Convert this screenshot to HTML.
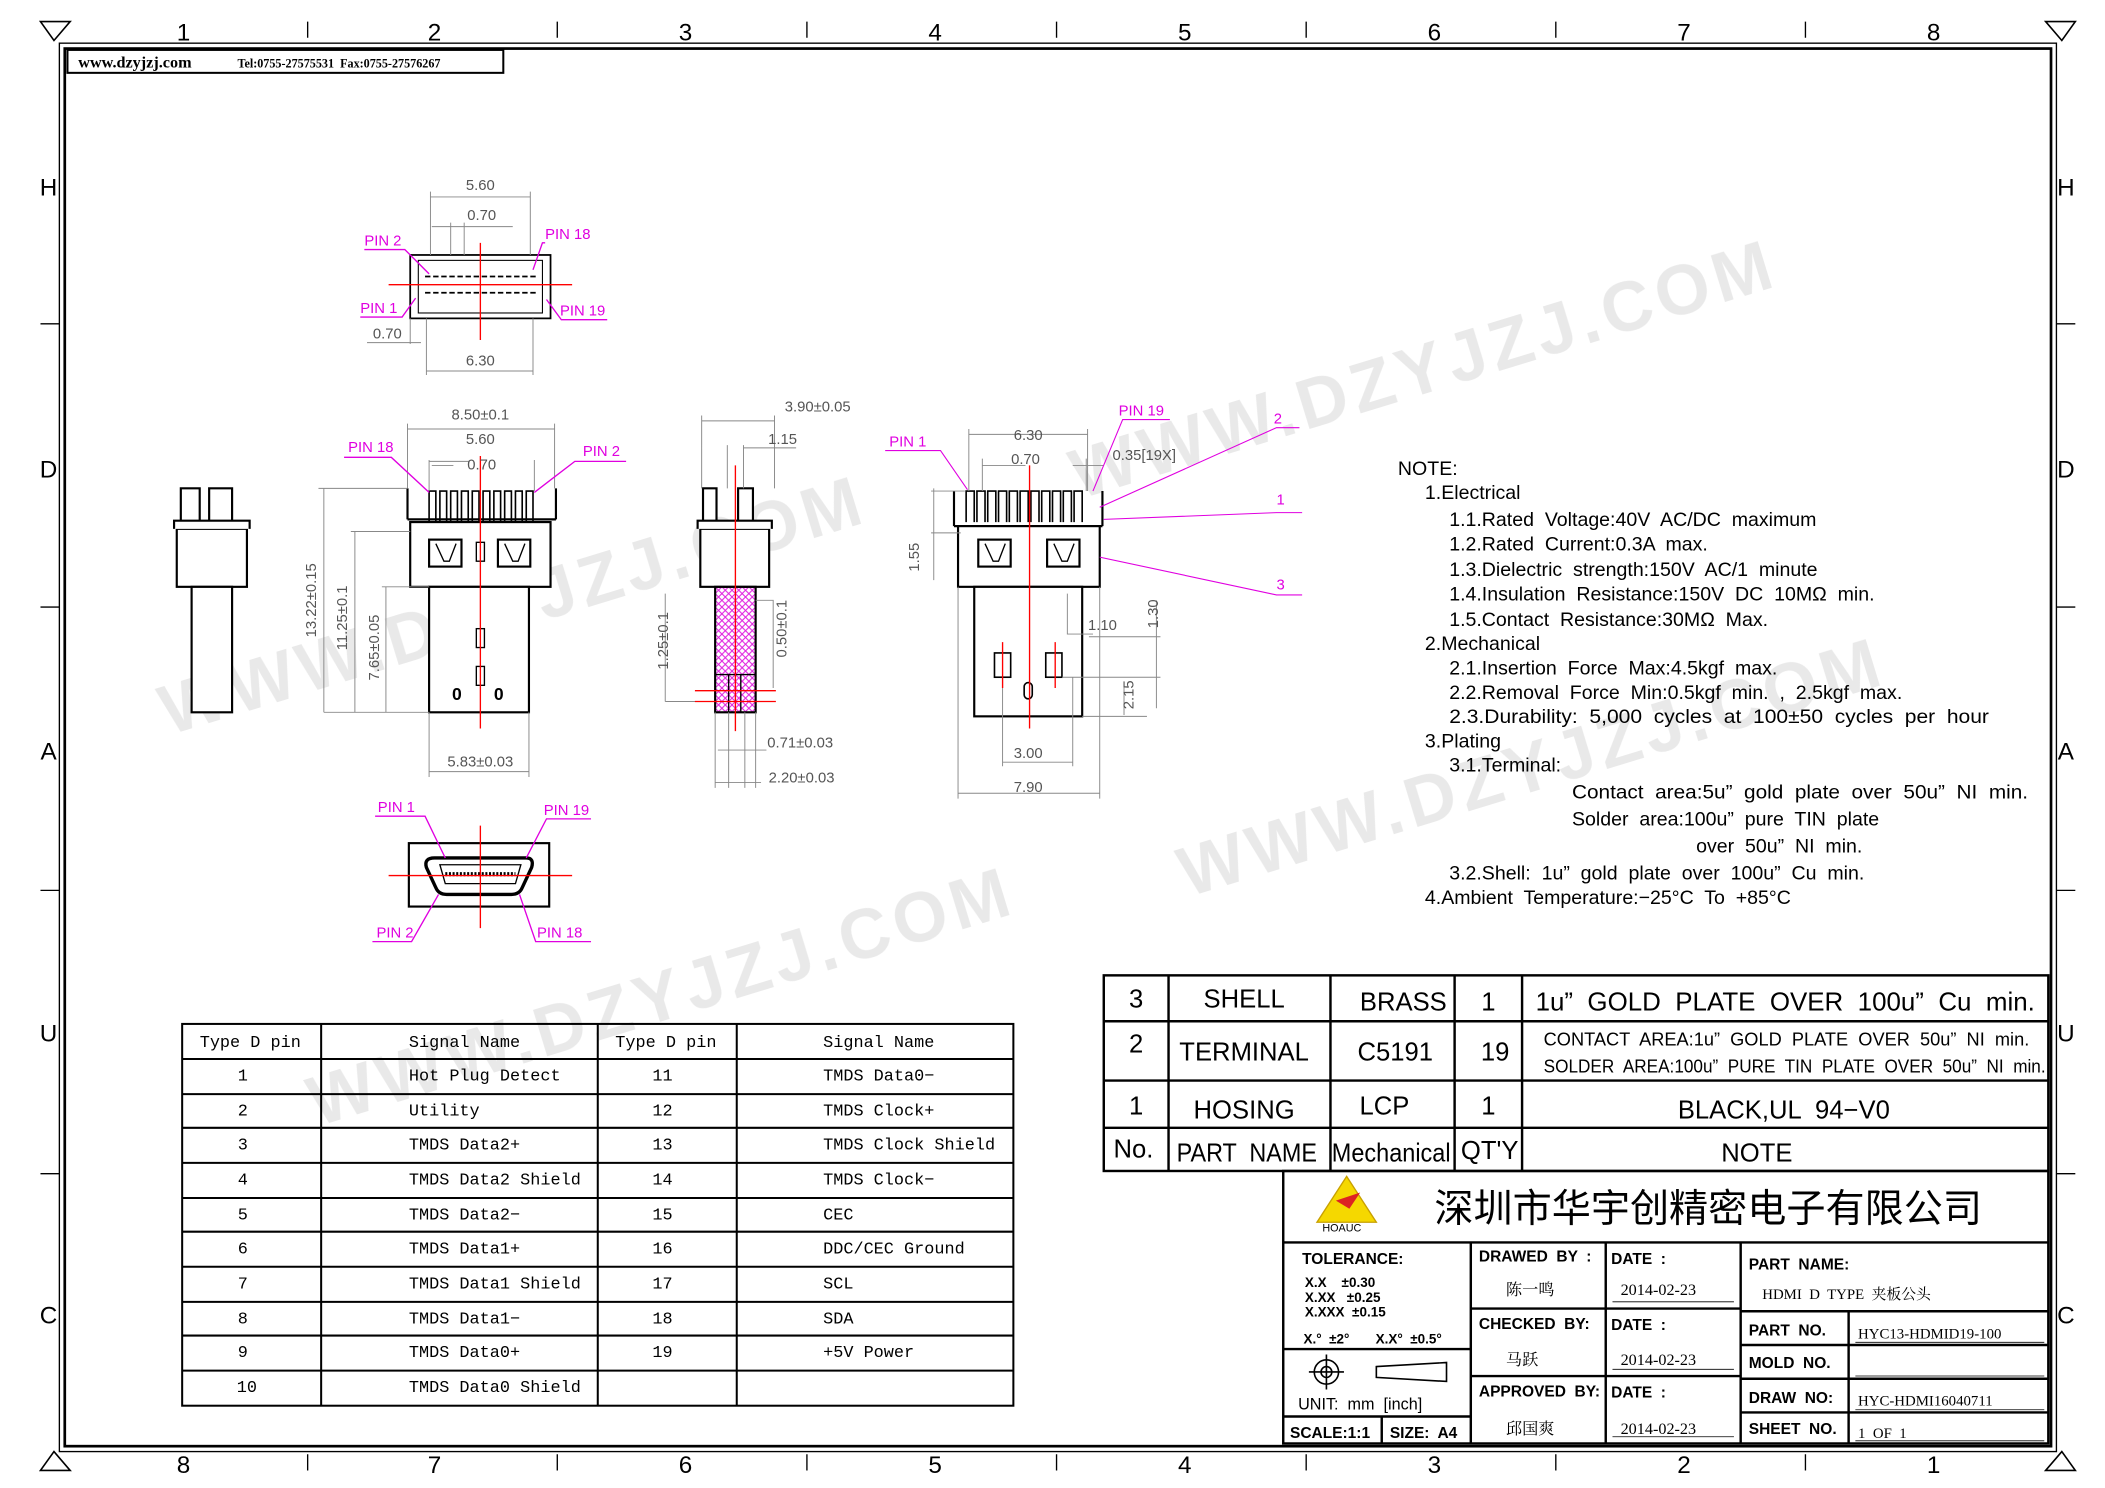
<!DOCTYPE html>
<html><head><meta charset="utf-8"><style>
html,body{margin:0;padding:0;background:#fff}
svg{display:block}
text{font-family:"Liberation Sans","Noto Sans CJK SC",sans-serif;white-space:pre}
.s text,text.s{font-family:"Liberation Serif","Noto Serif CJK SC",serif}
.m text{font-family:"Liberation Mono","Noto Sans CJK SC",monospace}
</style></head><body>
<svg width="2105" height="1488" viewBox="0 0 1560 1103" preserveAspectRatio="none" xmlns="http://www.w3.org/2000/svg">
<defs>
<pattern id="h" width="5" height="5" patternUnits="userSpaceOnUse"><path d="M0,0L5,5M5,0L0,5" stroke="#e020e0" stroke-width="0.8"/></pattern>
</defs>
<rect width="1560" height="1103" fill="#fff"/>
<g fill="none" stroke="#000">
<rect x="44" y="32" width="1480" height="1044" stroke-width="1"/>
<rect x="48" y="36" width="1472" height="1036" stroke-width="2"/>
<path d="M30,16 L52,16 L40,30 Z M1538,16 L1516,16 L1528,30 Z M30,1090 L52,1090 L40,1076 Z M1538,1090 L1516,1090 L1528,1076 Z" stroke-width="1.2"/>
<path d="M228,16V28M413,16V28M598,16V28M783,16V28M968,16V28M1153,16V28M1338,16V28M228,1078V1090M413,1078V1090M598,1078V1090M783,1078V1090M968,1078V1090M1153,1078V1090M1338,1078V1090M30,240H44M30,450H44M30,660H44M30,870H44M1524,240H1538M1524,450H1538M1524,660H1538M1524,870H1538"/>
</g>
<g font-size="18" text-anchor="middle">
<text x="136" y="30">1</text><text x="322" y="30">2</text><text x="508" y="30">3</text><text x="693" y="30">4</text><text x="878" y="30">5</text><text x="1063" y="30">6</text><text x="1248" y="30">7</text><text x="1433" y="30">8</text>
<text x="136" y="1092">8</text><text x="322" y="1092">7</text><text x="508" y="1092">6</text><text x="693" y="1092">5</text><text x="878" y="1092">4</text><text x="1063" y="1092">3</text><text x="1248" y="1092">2</text><text x="1433" y="1092">1</text>
<text x="36" y="145">H</text><text x="36" y="354">D</text><text x="36" y="563">A</text><text x="36" y="772">U</text><text x="36" y="981">C</text>
<text x="1531" y="145">H</text><text x="1531" y="354">D</text><text x="1531" y="563">A</text><text x="1531" y="772">U</text><text x="1531" y="981">C</text>
</g>
<rect x="50" y="37" width="323" height="17" fill="#fff" stroke="#000" stroke-width="1.5"/>
<text x="58" y="50" class="s" font-size="12" font-weight="bold">www.dzyjzj.com</text>
<text x="176" y="50" class="s" font-size="9" font-weight="bold">Tel:0755-27575531  Fax:0755-27576267</text>

<g fill="#e2e2e2" font-size="52" font-weight="bold" letter-spacing="4" opacity="0.75">
<text transform="translate(125,545) rotate(-17)">WWW.DZYJZJ.COM</text>
<text transform="translate(800,370) rotate(-17)">WWW.DZYJZJ.COM</text>
<text transform="translate(880,665) rotate(-17)">WWW.DZYJZJ.COM</text>
<text transform="translate(235,835) rotate(-17)">WWW.DZYJZJ.COM</text>
</g>

<!-- TOP VIEW -->
<g stroke="#000" fill="none" stroke-width="1.3">
<rect x="304" y="189" width="104" height="47"/>
<rect x="310" y="193" width="92" height="39" stroke-width="0.8"/>
<path d="M315,205H398M315,217H398" stroke-dasharray="4,2"/>
</g>
<g stroke="#888" stroke-width="0.7" fill="none">
<path d="M319,189V142M393,189V142M319,146H393M334,189V165M344,189V165M320,168H380M304,236V255M316,236V278M395,236V278M316,275H395M272,254H312"/>
</g>
<g stroke="red" stroke-width="1"><path d="M356,180V252M288,211H424"/></g>
<g font-size="11" fill="#555" text-anchor="middle"><text x="356" y="141">5.60</text><text x="357" y="163">0.70</text><text x="287" y="251">0.70</text><text x="356" y="271">6.30</text></g>
<g fill="#e000e0" font-size="11"><text x="270" y="182">PIN 2</text><text x="404" y="177">PIN 18</text><text x="267" y="232">PIN 1</text><text x="415" y="234">PIN 19</text></g>
<g stroke="#e000e0" stroke-width="1" fill="none"><path d="M270,185H300L318,203M404,180H402L395,200M267,235H298L308,221M450,237H416L405,222"/></g>

<!-- SIDE VIEW LEFT -->
<g stroke="#000" fill="#fff" stroke-width="1.6">
<path d="M134,388V362H148V388M155,388V362H172V388"/>
<rect x="131" y="392" width="52" height="43"/>
<path d="M129,392V386H185V392"/>
<rect x="142" y="435" width="30" height="93"/>
</g>

<!-- FRONT VIEW 1 -->
<g stroke="#000" fill="#fff" stroke-width="1.6">
<path d="M302,385V362M412,385V362M302,385H412"/>
<path d="M318,387V364H323V387M326,387V364H331V387M334,387V364H339V387M342,387V364H347V387M350,387V364H355V387M358,387V364H363V387M366,387V364H371V387M374,387V364H379V387M382,387V364H387V387M390,387V364H395V387" stroke-width="1.2" fill="none"/>
<rect x="304" y="387" width="104" height="48"/>
<rect x="318" y="400" width="24" height="20"/><rect x="369" y="400" width="24" height="20"/>
<path d="M323,403L329,416H333L338,403M374,403L380,416H384L389,403" fill="none" stroke-width="1"/>
<rect x="318" y="435" width="74" height="93"/>
<rect x="353" y="402" width="6" height="14" stroke-width="1"/><rect x="353" y="466" width="6" height="14" stroke-width="1"/><rect x="353" y="494" width="6" height="14" stroke-width="1"/>
</g>
<text x="335" y="519" font-size="13" font-weight="bold">0</text><text x="366" y="519" font-size="13" font-weight="bold">0</text>
<g stroke="#888" stroke-width="0.7" fill="none">
<path d="M302,362V314M411,362V314M302,318H411M318,364V341M396,364V341M318,342H348M320,345H336M236,362H302M260,394H304M283,435H318M240,528H318M240,362V528M263,394V528M286,435V528M318,528V576M392,528V576M318,572H392"/>
</g>
<path d="M356,338V540" stroke="red" stroke-width="1"/>
<g font-size="11" fill="#555" text-anchor="middle"><text x="356" y="311">8.50±0.1</text><text x="356" y="329">5.60</text><text x="357" y="348">0.70</text><text x="356" y="568">5.83±0.03</text>
<text transform="translate(234,445) rotate(-90)">13.22±0.15</text><text transform="translate(257,458) rotate(-90)">11.25±0.1</text><text transform="translate(281,480) rotate(-90)">7.65±0.05</text></g>
<g fill="#e000e0" font-size="11"><text x="258" y="335">PIN 18</text><text x="432" y="338">PIN 2</text></g>
<g stroke="#e000e0" stroke-width="1" fill="none"><path d="M255,339H290L318,365M464,342H426L396,365"/></g>

<!-- SIDE VIEW CENTER -->
<g stroke="#000" fill="#fff" stroke-width="1.6">
<path d="M521,388V362H531V388M547,388V362H558V388"/>
<rect x="519" y="392" width="51" height="43"/>
<path d="M517,392V386H572V392"/>
<rect x="530" y="435" width="30" height="93" fill="url(#h)"/>
<path d="M530,500H560M540,500V528M549,500V528" stroke-width="1"/>
</g>
<g stroke="#888" stroke-width="0.7" fill="none">
<path d="M520,362V308M574,362V308M520,312H574M539,362V330M551,362V330M551,332H590M493,520H530M493,440V520M560,445H573V510M540,528V584M552,528V584M532,556H568M530,528V584M560,528V584M530,580H564"/>
</g>
<g stroke="red" stroke-width="1"><path d="M545,345V542M515,512H575M515,520H575"/></g>
<g font-size="11" fill="#555" text-anchor="middle"><text x="606" y="305">3.90±0.05</text><text x="580" y="329">1.15</text><text x="593" y="554">0.71±0.03</text><text x="594" y="580">2.20±0.03</text>
<text transform="translate(495,475) rotate(-90)">1.25±0.1</text><text transform="translate(583,466) rotate(-90)">0.50±0.1</text></g>

<!-- FRONT VIEW RIGHT -->
<g stroke="#000" fill="#fff" stroke-width="1.6">
<path d="M707,390V364M817,390V364M707,390H817"/>
<path d="M716,387V364H722V387M724,387V364H730V387M732,387V364H738V387M740,387V364H746V387M748,387V364H754V387M756,387V364H762V387M764,387V364H770V387M772,387V364H778V387M780,387V364H786V387M788,387V364H794V387M796,387V364H802V387" stroke-width="1.2" fill="none"/>
<rect x="710" y="390" width="105" height="45"/>
<rect x="725" y="400" width="24" height="20"/><rect x="776" y="400" width="24" height="20"/>
<path d="M730,403L736,416H740L745,403M781,403L787,416H791L796,403" fill="none" stroke-width="1"/>
<rect x="722" y="435" width="80" height="96"/>
<rect x="737" y="484" width="12" height="18" stroke-width="1.2"/><rect x="775" y="484" width="12" height="18" stroke-width="1.2"/>
<rect x="759" y="506" width="6" height="12" rx="3" stroke-width="1.2"/>
</g>
<g stroke="#888" stroke-width="0.7" fill="none">
<path d="M718,364V318M806,364V318M718,322H806M728,364V340M805,364V340M728,345H760M795,345H818M690,364H715M690,395H712M692,362V430M710,435V592M815,435V592M710,588H815M743,502V568M795,502V568M743,565H795M791,440V470H810M807,472H860M787,502H860M802,531H850M833,505V530M857,445V525"/>
</g>
<g stroke="red" stroke-width="1"><path d="M763,345V540M743,476V510M782,476V510"/></g>
<g font-size="11" fill="#555" text-anchor="middle"><text x="762" y="326">6.30</text><text x="760" y="344">0.70</text><text x="848" y="341">0.35[19X]</text><text x="817" y="467">1.10</text><text x="762" y="562">3.00</text><text x="762" y="587">7.90</text>
<text transform="translate(681,413) rotate(-90)">1.55</text><text transform="translate(858,455) rotate(-90)">1.30</text><text transform="translate(840,515) rotate(-90)">2.15</text></g>
<g fill="#e000e0" font-size="11"><text x="659" y="331">PIN 1</text><text x="829" y="308">PIN 19</text><text x="944" y="314">2</text><text x="946" y="374">1</text><text x="946" y="437">3</text></g>
<g stroke="#e000e0" stroke-width="0.8" fill="none"><path d="M656,334H697L717,363M867,311H832L810,364M963,317H946L815,376M965,380H946L818,385M965,441H946L815,413"/></g>

<!-- BOTTOM VIEW -->
<g stroke="#000" fill="#fff" stroke-width="1.6">
<rect x="303" y="625" width="104" height="47"/>
<path d="M322,636H390Q396,636 394,643L387,658Q385,663 379,663H331Q325,663 323,658L316,643Q314,636 322,636Z" stroke-width="2.5"/>
<path d="M326,641H386L382,655H330Z" stroke-width="1"/>
<path d="M330,648H382" stroke-dasharray="1.5,1.2" stroke-width="3"/>
</g>
<g stroke="red" stroke-width="1"><path d="M356,612V688M288,649H424"/></g>
<g fill="#e000e0" font-size="11"><text x="280" y="602">PIN 1</text><text x="403" y="604">PIN 19</text><text x="279" y="695">PIN 2</text><text x="398" y="695">PIN 18</text></g>
<g stroke="#e000e0" stroke-width="1" fill="none"><path d="M278,605H315L330,636M438,607H405L390,636M276,698H305L325,663M438,698H397L385,663"/></g>

<!-- NOTES -->
<g font-size="14.5" fill="#000">
<text x="1036" y="352">NOTE:</text>
<text x="1056" y="370">1.Electrical</text>
<text x="1074" y="390">1.1.Rated  Voltage:40V  AC/DC  maximum</text>
<text x="1074" y="408">1.2.Rated  Current:0.3A  max.</text>
<text x="1074" y="427">1.3.Dielectric  strength:150V  AC/1  minute</text>
<text x="1074" y="445">1.4.Insulation  Resistance:150V  DC  10MΩ  min.</text>
<text x="1074" y="464">1.5.Contact  Resistance:30MΩ  Max.</text>
<text x="1056" y="482">2.Mechanical</text>
<text x="1074" y="500">2.1.Insertion  Force  Max:4.5kgf  max.</text>
<text x="1074" y="518">2.2.Removal  Force  Min:0.5kgf  min.  ,  2.5kgf  max.</text>
<text x="1074" y="536" textLength="400" lengthAdjust="spacingAndGlyphs">2.3.Durability:  5,000  cycles  at  100±50  cycles  per  hour</text>
<text x="1056" y="554">3.Plating</text>
<text x="1074" y="572">3.1.Terminal:</text>
<text x="1165" y="592" textLength="338" lengthAdjust="spacingAndGlyphs">Contact  area:5u”  gold  plate  over  50u”  NI  min.</text>
<text x="1165" y="612">Solder  area:100u”  pure  TIN  plate</text>
<text x="1257" y="632">over  50u”  NI  min.</text>
<text x="1074" y="652">3.2.Shell:  1u”  gold  plate  over  100u”  Cu  min.</text>
<text x="1056" y="670">4.Ambient  Temperature:−25°C  To  +85°C</text>
</g>

<!-- PIN TABLE -->
<g stroke="#000" stroke-width="1.5" fill="none">
<rect x="135" y="759" width="616" height="283"/>
<path d="M238,759V1042M443,759V1042M546,759V1042"/>
<path d="M135,785H751M135,811H751M135,836H751M135,862H751M135,888H751M135,913H751M135,939H751M135,965H751M135,990H751M135,1016H751"/>
</g>
<g class="m" font-size="12.5" fill="#000">
<text x="148" y="776">Type D pin</text><text x="303" y="776">Signal Name</text><text x="456" y="776">Type D pin</text><text x="610" y="776">Signal Name</text>
<g text-anchor="middle"><text x="180" y="801">1</text><text x="180" y="827">2</text><text x="180" y="852">3</text><text x="180" y="878">4</text><text x="180" y="904">5</text><text x="180" y="929">6</text><text x="180" y="955">7</text><text x="180" y="981">8</text><text x="180" y="1006">9</text><text x="183" y="1032">10</text>
<text x="491" y="801">11</text><text x="491" y="827">12</text><text x="491" y="852">13</text><text x="491" y="878">14</text><text x="491" y="904">15</text><text x="491" y="929">16</text><text x="491" y="955">17</text><text x="491" y="981">18</text><text x="491" y="1006">19</text></g>
<text x="303" y="801">Hot Plug Detect</text><text x="303" y="827">Utility</text><text x="303" y="852">TMDS Data2+</text><text x="303" y="878">TMDS Data2 Shield</text><text x="303" y="904">TMDS Data2−</text><text x="303" y="929">TMDS Data1+</text><text x="303" y="955">TMDS Data1 Shield</text><text x="303" y="981">TMDS Data1−</text><text x="303" y="1006">TMDS Data0+</text><text x="303" y="1032">TMDS Data0 Shield</text>
<text x="610" y="801">TMDS Data0−</text><text x="610" y="827">TMDS Clock+</text><text x="610" y="852">TMDS Clock Shield</text><text x="610" y="878">TMDS Clock−</text><text x="610" y="904">CEC</text><text x="610" y="929">DDC/CEC Ground</text><text x="610" y="955">SCL</text><text x="610" y="981">SDA</text><text x="610" y="1006">+5V Power</text>
</g>

<!-- BOM TABLE -->
<g stroke="#000" stroke-width="1.8" fill="none">
<rect x="818" y="723" width="700" height="145"/>
<path d="M818,757H1518M818,801H1518M818,836H1518M866,723V868M986,723V868M1078,723V868M1128,723V868"/>
</g>
<g font-size="19" fill="#000" text-anchor="middle">
<text x="842" y="747">3</text><text x="922" y="747">SHELL</text><text x="1040" y="749">BRASS</text><text x="1103" y="749">1</text><text x="1323" y="749" textLength="370" lengthAdjust="spacingAndGlyphs">1u”  GOLD  PLATE  OVER  100u”  Cu  min.</text>
<text x="842" y="780">2</text><text x="922" y="786">TERMINAL</text><text x="1034" y="786">C5191</text><text x="1108" y="786">19</text>
<text x="842" y="826">1</text><text x="922" y="829">HOSING</text><text x="1026" y="826">LCP</text><text x="1103" y="826">1</text><text x="1322" y="829">BLACK,UL  94−V0</text>
<text x="840" y="858">No.</text><text x="924" y="861" textLength="104" lengthAdjust="spacingAndGlyphs">PART  NAME</text><text x="1031" y="861" textLength="88" lengthAdjust="spacingAndGlyphs">Mechanical</text><text x="1104" y="859">QT'Y</text><text x="1302" y="861">NOTE</text>
</g>
<g font-size="13.5" fill="#000"><text x="1144" y="775">CONTACT  AREA:1u”  GOLD  PLATE  OVER  50u”  NI  min.</text><text x="1144" y="795" textLength="372" lengthAdjust="spacingAndGlyphs">SOLDER  AREA:100u”  PURE  TIN  PLATE  OVER  50u”  NI  min.</text></g>

<!-- TITLE BLOCK -->
<g stroke="#000" stroke-width="1.8" fill="none">
<rect x="951" y="868" width="567" height="202"/>
<path d="M951,921H1518M1090,921V1070M1190,921V1070M1290,921V1070M1090,970H1290M1090,1020H1290M1290,972H1518M1290,997H1518M1290,1022H1518M1290,1047H1518M1370,972V1070M951,1000H1090M951,1050H1090M1024,1050V1070"/>
</g>
<g stroke="#000" stroke-width="0.6" fill="none"><path d="M1375,995H1515M1375,1020H1515M1375,1045H1515M1375,1068H1515M1195,965H1285M1195,1015H1285M1195,1065H1285"/></g>
<path d="M998,872L1020,906H976Z" fill="#f5d800" stroke="#c8a000"/>
<path d="M990,890L1008,884L1000,896Z" fill="#d22"/>
<text x="980" y="913" font-size="8" fill="#000">HOAUC</text>
<text x="1063" y="906" font-size="29" fill="#000" font-family="'Noto Sans CJK SC',sans-serif">深圳市华宇创精密电子有限公司</text>
<g font-size="11.5" font-weight="bold" fill="#000">
<text x="965" y="937">TOLERANCE:</text>
<text x="967" y="954" font-size="10">X.X    ±0.30</text><text x="967" y="965" font-size="10">X.XX   ±0.25</text><text x="967" y="976" font-size="10">X.XXX  ±0.15</text>
<text x="966" y="996" font-size="10">X.°  ±2°       X.X°  ±0.5°</text>
<text x="962" y="1045" font-weight="normal" font-size="12">UNIT:  mm  [inch]</text>
<text x="956" y="1066">SCALE:1:1</text><text x="1030" y="1066">SIZE:  A4</text>
<text x="1096" y="935">DRAWED  BY  :</text><text x="1194" y="937">DATE  :</text>
<text x="1096" y="985">CHECKED  BY:</text><text x="1194" y="986">DATE  :</text>
<text x="1096" y="1035">APPROVED  BY:</text><text x="1194" y="1036">DATE  :</text>
<text x="1296" y="941">PART  NAME:</text>
<text x="1296" y="990">PART  NO.</text><text x="1296" y="1014">MOLD  NO.</text><text x="1296" y="1040">DRAW  NO:</text><text x="1296" y="1063">SHEET  NO.</text>
</g>
<g stroke="#000" fill="none" stroke-width="1.2"><circle cx="983" cy="1017" r="9"/><circle cx="983" cy="1017" r="4"/><path d="M970,1017H996M983,1004V1030M1020,1013L1072,1010V1024L1020,1021Z"/></g>
<g class="s" font-size="12" fill="#000">
<text x="1116" y="960">陈一鸣</text><text x="1201" y="960">2014-02-23</text>
<text x="1116" y="1012">马跃</text><text x="1201" y="1012">2014-02-23</text>
<text x="1116" y="1063">邱国爽</text><text x="1201" y="1063">2014-02-23</text>
<text x="1306" y="963" font-size="11">HDMI  D  TYPE  夹板公头</text>
<text x="1377" y="992" font-size="11">HYC13-HDMID19-100</text>
<text x="1377" y="1042" font-size="11">HYC-HDMI16040711</text>
<text x="1377" y="1066" font-size="11">1  OF  1</text>
</g>
</svg>
</body></html>
